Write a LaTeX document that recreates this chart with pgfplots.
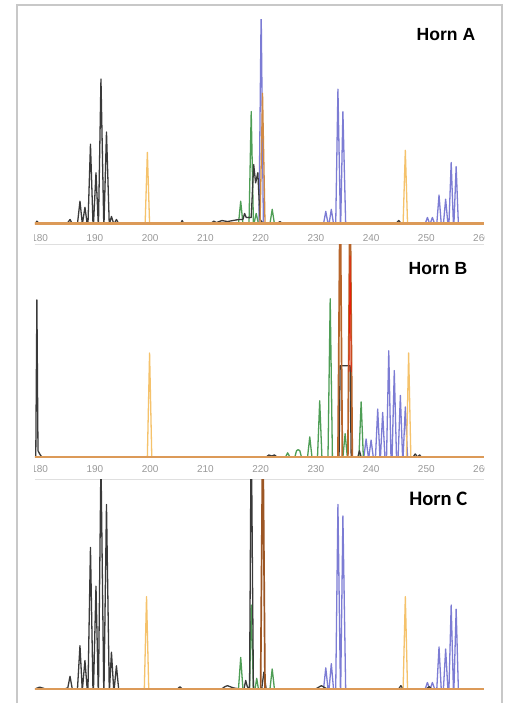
\documentclass[border=0pt]{standalone}
\usepackage{pgfplots}
\pgfplotsset{compat=1.18}
\usepackage{fontspec}
\setmainfont{Liberation Sans}
\newfontfamily\calib{Carlito}

\definecolor{trblack}{HTML}{3A3A3A}
\definecolor{trgreen}{HTML}{4E9E55}
\definecolor{trpurple}{HTML}{7C7CD4}
\definecolor{trstd}{HTML}{F5C26B}
\definecolor{trbrown}{HTML}{B8652A}
\definecolor{trbase}{HTML}{DC9A58}
\definecolor{framegray}{HTML}{C8C8C8}

\pgfplotsset{
  panel/.style={
    scale only axis, width=225pt,
    xmin=179.15, xmax=260.5, ymin=-2, ymax=100,
    axis line style={draw=none},
    ytick=\empty, major tick length=0pt,
    xtick={180,190,...,260},
    /pgf/number format/assume math mode=true,
    /pgf/number format/1000 sep={},
    xticklabel style={font=\fontsize{5}{6}\selectfont, text=gray!80},
    anchor=south west,
  },
  tr/.style={line width=0.65pt, line join=round, mark=none},
  baseline trace/.style={draw=trbase, line width=0.9pt, mark=none},
}

\begin{document}
\begin{tikzpicture}[x=0.5pt,y=0.5pt]
\fill[white] (0,0) rectangle (510,704);
\draw[framegray, line width=1pt] (17,0) -- (17,699) -- (503,699) -- (503,0);
\draw[gray!25, line width=0.8pt] (35,459) -- (485,459);
\draw[gray!25, line width=0.8pt] (35,224) -- (485,224);

\begin{scope}
\clip (35,0) rectangle (485.5,704);

% ---------------- Horn A
\begin{axis}[panel, at={(17.5pt,238pt)}, height=104pt]
\addplot[tr, trpurple] coordinates {
  (219.7,0) (220.1,105) (220.5,0) (231.4,0) (231.8,6) (232.2,0) (232.4,0) (232.8,7) (233.2,0)
  (233.6,0) (234.0,66) (234.45,0) (234.5,0) (234.9,55) (235.4,0)
};
\addplot[tr, trpurple] coordinates {
  (249.8,0) (250.2,3) (250.6,0)
  (250.7,0) (251.1,3) (251.5,0) (251.9,0) (252.3,14) (252.7,0) (253.1,0) (253.5,12) (253.9,0)
  (254.1,0) (254.5,30) (254.9,0) (255.0,0) (255.4,28) (255.8,0)
};
\addplot[tr, trgreen] coordinates {
  (214,0) (215.6,0.5) (216.0,0) (216.4,11) (216.8,0) (217.9,0) (218.3,55) (218.7,0) (218.8,0)
  (219.2,5) (219.6,0) (221.7,0) (222.1,7) (222.5,0)
};
\addplot[tr, trblack] coordinates {
  (184.6,0) (185.1,0.5) (185.5,2) (185.9,0)
  (186.85,0) (187.3,11) (187.7,0.5) (187.75,0) (188.2,8) (188.6,0) (188.75,0) (189.2,39) (189.65,0.5)
  (189.75,0) (190.2,25) (190.6,0.5) (190.65,0) (191.1,71) (191.6,0.5) (191.65,0) (192.1,45) (192.6,0)
  (192.65,0) (193.0,3.5) (193.4,0) (193.5,0) (193.9,2) (194.3,0)
};
\addplot[tr, trblack] coordinates {
  (211,0) (211.5,1.2) (212,0.5) (213,1.5) (214,1) (215,1.5) (216,2) (216.8,2) (217.1,5) (217.4,3)
  (217.8,3) (218.3,3) (218.75,29) (219.1,20) (219.5,25) (219.9,2) (220.5,0)
};
\addplot[tr, trblack] coordinates {(179.2,0) (179.5,1.2) (179.9,0)};
\addplot[tr, trblack] coordinates {(205.5,0) (205.8,1.5) (206.1,0)};
\addplot[tr, trblack] coordinates {(223,0) (223.5,1) (224,0)};
\addplot[tr, trblack] coordinates {(244.5,0) (245,1.5) (245.5,0)};
\addplot[tr, trstd] coordinates {(199.1,0) (199.5,35) (199.9,0)};
\addplot[tr, trstd] coordinates {(245.8,0) (246.2,36) (246.6,0)};
\addplot[tr, trbrown!60!trstd] coordinates {(219.9,0) (220.35,64) (220.8,0)};
\addplot[baseline trace, line width=1.2pt] coordinates {(179,0) (260.5,0)};
\end{axis}

% ---------------- Horn B
\begin{axis}[panel, at={(17.5pt,121pt)}, height=108.5pt,
  xticklabel style={yshift=1.5pt}]
\addplot[tr, trpurple] coordinates {
  (238.7,0) (239.1,8.5) (239.5,0) (239.6,0) (240.0,8) (240.4,0) (240.8,0) (241.2,22.6) (241.6,0)
  (241.7,0) (242.1,21) (242.5,0) (242.8,0) (243.2,50) (243.6,0) (243.8,0) (244.2,40.7) (244.6,0)
  (244.9,0) (245.3,29) (245.7,0) (245.8,0) (246.2,23.6) (246.6,0)
};
\addplot[tr, trgreen] coordinates {
  (224.5,0) (224.9,2) (225.3,0) (226.2,0) (226.5,3) (226.8,3.5) (227.1,3) (227.4,0) (228.5,0)
  (228.9,9.5) (229.3,0) (230.3,0) (230.7,26.5) (231.1,0) (232.2,0) (232.6,74.5) (233.0,0)
  (234.9,0) (235.3,11) (235.7,0) (237.8,0) (238.2,26) (238.6,0)
};
\addplot[tr, trblack] coordinates {(179.3,0) (179.5,74) (179.7,3) (180,1.5) (180.4,0)};
\addplot[tr, trblack] coordinates {(221,0) (221.5,1) (222,0.5) (222.5,1) (223,0)};
\addplot[tr, trblack] coordinates {
  (234.2,0) (234.4,43) (236.2,43) (236.4,0) (237.6,0) (237.9,3) (238.2,0)
};
\addplot[tr, trblack] coordinates {(247.6,0) (248.0,1.5) (248.4,0) (248.8,1) (249.1,0)};
\addplot[tr, trstd] coordinates {(199.5,0) (199.9,49) (200.3,0)};
\addplot[tr, trstd] coordinates {(246.4,0) (246.8,49) (247.2,0)};
\addplot[line width=0.85pt, trbrown] coordinates {(234.0,0) (234.4,130) (234.8,0)};
\addplot[line width=0.85pt, trbrown] coordinates {(235.8,0) (236.2,130) (236.6,0)};
\addplot[line width=0.4pt, red!70!trbrown] coordinates {(236.0,40) (236.2,95) (236.4,40)};
\addplot[baseline trace] coordinates {(179,0) (260.5,0)};
\end{axis}

% ---------------- Horn C
\begin{axis}[panel, at={(17.5pt,5pt)}, height=107pt, xticklabels=\empty]
\addplot[tr, trpurple] coordinates {
  (231.4,0) (231.8,10) (232.2,0) (232.4,0) (232.8,12) (233.2,0) (233.6,0) (234.0,88) (234.45,0)
  (234.5,0) (234.9,82.5) (235.4,0)
};
\addplot[tr, trpurple] coordinates {
  (249.8,0) (250.2,3) (250.6,0) (250.7,0) (251.1,3) (251.5,0)
  (251.9,0) (252.3,20) (252.7,0) (253.1,0) (253.5,19) (253.9,0) (254.1,0) (254.5,40) (254.9,0)
  (255.0,0) (255.4,38) (255.8,0)
};
\addplot[tr, trgreen] coordinates {
  (216.0,0) (216.4,15) (216.8,0) (218.0,0) (218.3,40) (218.7,0) (219.0,0) (219.3,5) (219.6,0)
  (221.7,0) (222.1,9.5) (222.5,0)
};
\addplot[tr, trblack] coordinates {
  (184.6,0) (185.1,0.5) (185.5,6) (185.9,0) (186.85,0) (187.3,20.6) (187.7,0)
  (187.75,0) (188.2,13.5) (188.6,0) (188.75,0) (189.2,67.5) (189.65,0) (189.75,0) (190.2,49) (190.6,0)
  (190.65,0) (191.1,110) (191.6,0) (191.65,0) (192.1,88) (192.6,0) (192.65,0) (193.0,17.5)
  (193.4,0) (193.5,0) (193.9,11) (194.3,0)
};
\addplot[tr, trblack] coordinates {
  (213,0) (213.5,1) (214,1.5) (215,0.5) (216,0) (217.0,0) (217.3,4) (217.6,1) (218.0,0)
  (218.3,130) (218.7,0) (220.2,0) (220.6,8) (221.0,0)
};
\addplot[tr, trblack] coordinates {(179.2,0) (180,0.8) (181,0)};
\addplot[tr, trblack] coordinates {(205,0) (205.4,1) (205.8,0)};
\addplot[tr, trblack] coordinates {(230,0) (231,1.5) (232,0)};
\addplot[tr, trblack] coordinates {(245,0) (245.4,1.5) (245.8,0)};
\addplot[tr, trblack] coordinates {(250,0) (250.5,1) (251,0)};
\addplot[tr, trstd] coordinates {(198.95,0) (199.35,44) (199.75,0)};
\addplot[tr, trstd] coordinates {(245.8,0) (246.2,44) (246.6,0)};
\addplot[line width=0.85pt, trbrown!85!black] coordinates {(220.0,0) (220.4,130) (220.8,0)};
\addplot[baseline trace] coordinates {(179,0) (260.5,0)};
\end{axis}
\end{scope}

\node[anchor=east, font=\fontsize{8.8}{10}\selectfont\bfseries] at (483,669) {Horn A};
\node[anchor=east, font=\fontsize{8.8}{10}\selectfont\bfseries] at (475,435.5) {Horn B};
\node[anchor=east, font=\fontsize{10.3}{12}\selectfont\calib\bfseries] at (475,204) {Horn C};
\end{tikzpicture}
\end{document}
